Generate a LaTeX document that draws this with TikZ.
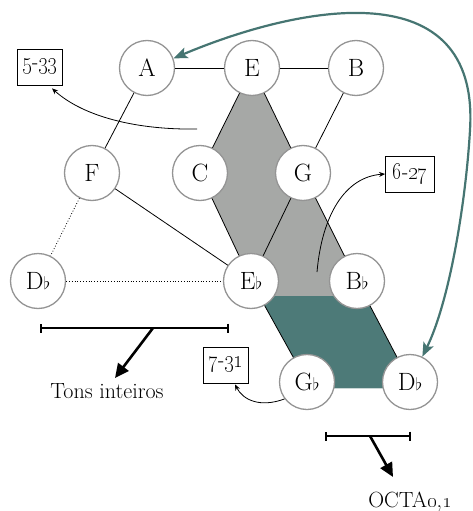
\documentclass[tikz,border=0pt]{standalone}
\usepackage{graphicx}
\usetikzlibrary{arrows.meta,calc,backgrounds}
\definecolor{shadegray}{RGB}{166,168,166}
\definecolor{deepteal}{RGB}{77,122,120}
\definecolor{tealline}{RGB}{70,117,114}
\definecolor{ringgray}{RGB}{148,148,148}
% small flat sign after a note letter
\newcommand\flt{{\fontsize{16}{16}\selectfont$\flat$}}
% set-class name with old-style figures, slightly condensed
\newcommand\setname[2]{\scalebox{0.85}[1]{\oldstylenums{#1}-\oldstylenums{#2}}}
\begin{document}
\begin{tikzpicture}[x=1pt,y=-1pt,
  pitch/.style={circle,draw=ringgray,line width=1.3pt,fill=white,minimum size=55pt,inner sep=0pt,font=\fontsize{25}{30}\selectfont},
  link/.style={line width=0.8pt},
  weak/.style={line width=0.8pt,dotted},
  setbox/.style={draw,line width=0.8pt,fill=white,minimum width=45pt,minimum height=36pt,inner sep=0pt,font=\fontsize{24}{26}\selectfont},
  pointer/.style={line width=0.8pt,-{Stealth[length=6pt,width=5pt]}},
  span/.style={line width=2.2pt,{Bar[width=9pt]}-{Bar[width=9pt]}},
  bigarrow/.style={line width=2.6pt,-{Triangle[length=14pt,width=13pt]}},
  tealarrow/.style={draw=tealline,line width=2.2pt,{Stealth[length=14pt,width=11pt,inset=3pt]}-{Stealth[length=14pt,width=11pt,inset=3pt]}},
  caption/.style={font=\fontsize{22}{26}\selectfont,inner sep=0pt}
]
\useasboundingbox (0,0) rectangle (473,511);

% pitch lattice
\node[pitch] (A)  at (147,68)  {A};
\node[pitch] (E)  at (252,68)  {E};
\node[pitch] (B)  at (356,68)  {B};
\node[pitch] (F)  at (92,173)  {F};
\node[pitch] (C)  at (200,173) {C};
\node[pitch] (G)  at (303,173) {G};
\node[pitch] (Db) at (38,281)  {D\flt};
\node[pitch] (Eb) at (251,281) {E\flt};
\node[pitch] (Bb) at (357,281) {B\flt};
\node[pitch] (Gb) at (307,382) {G\flt};
\node[pitch] (D2) at (410,382) {D\flt};

% shaded regions
\begin{scope}[on background layer]
  \fill[shadegray] (E.center) -- (C.center) -- (Eb.center)
     -- ($(Eb.center)!0.15!(Gb.center)$) -- ($(Bb.center)!0.15!(D2.center)$)
     -- (G.center) -- cycle;
  \fill[deepteal] ($(Eb.center)!0.15!(Gb.center)$) -- ($(Bb.center)!0.15!(D2.center)$)
     -- ($(Bb.center)!1.06!(D2.center)$) -- ($(Eb.center)!1.06!(Gb.center)$) -- cycle;
  \draw[line width=0.8pt,white!70!deepteal] ($(Eb.center)!1.06!(Gb.center)$) -- ($(Bb.center)!1.06!(D2.center)$);
\end{scope}

% lattice edges
\draw[link] (A) -- (E);
\draw[link] (E) -- (B);
\draw[link] (A) -- (F);
\draw[link] (B) -- (G);
\draw[link] (F) -- (Eb);
\draw[link] (E) -- (C);
\draw[link] (C) -- (Eb);
\draw[link] (E) -- (G);
\draw[link] (G) -- (Eb);
\draw[link] (G) -- (Bb);
\draw[link] (Bb) -- (D2);
\draw[link] (Eb) -- (Gb);
\draw[weak] (F) -- (Db);
\draw[weak] (Db) -- (Eb);

% set-class labels
\node[setbox] (s533) at (40,67) {\setname{5}{33}};
\node[setbox,minimum width=49pt] (s627) at (410,174) {\setname{6}{27}};
\node[setbox] (s731) at (226,365) {\setname{7}{31}};

\coordinate (p533) at (197,129);
\coordinate (p627) at (317,272);
\draw[pointer] (p533) .. controls (140,130) and (85,118) .. ([xshift=12pt,yshift=-3pt]s533.south);
\draw[pointer] (p627) .. controls (322,215) and (345,177) .. (s627.west);
\draw[pointer] (Gb.217) .. controls (260,408) and (243,400) .. ([xshift=9pt,yshift=-1pt]s731.south);

% A <-> D-flat
\draw[tealarrow] (A.20) .. controls (300,5) and (480,-30) .. (470,130)
   .. controls (466,200) and (450,300) .. (D2.64);

% whole-tone span
\coordinate (wl) at (40,328);
\coordinate (wr) at (229,328);
\coordinate (wm) at (153,328);
\coordinate (wtip) at (115,378);
\draw[span] (wl) -- (wr);
\draw[bigarrow] (wm) -- (wtip);
\node[caption] (whole) at (107,391) {Tons inteiros};

% octatonic span
\coordinate (ol) at (325,436);
\coordinate (or) at (411,436);
\coordinate (om) at (370,436);
\coordinate (otip) at (393,477);
\draw[span] (ol) -- (or);
\draw[bigarrow] (om) -- (otip);
\node[caption] (octa) at (410,502) {OCTA\oldstylenums{0},\oldstylenums{1}};
\end{tikzpicture}
\end{document}
